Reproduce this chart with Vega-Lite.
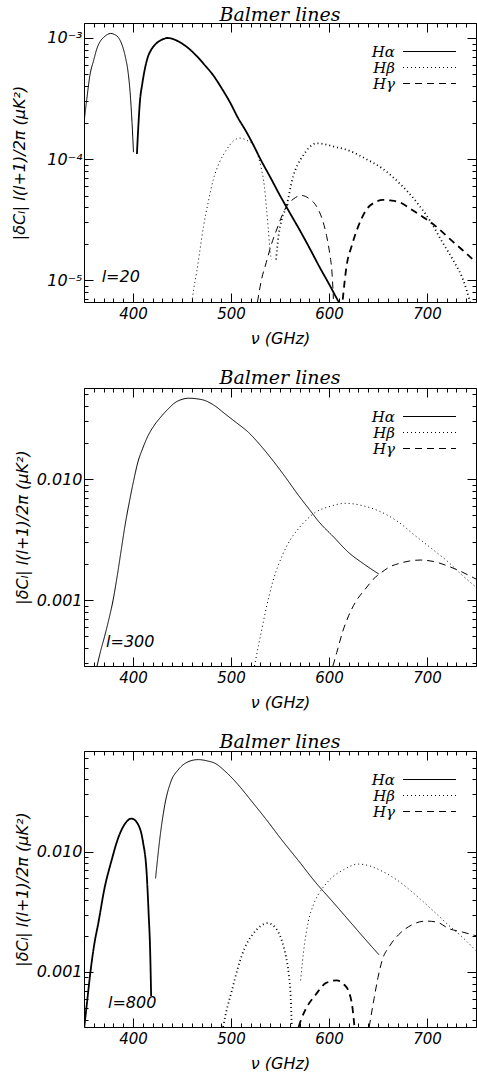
{
 "$schema": "https://vega.github.io/schema/vega-lite/v6.json",
 "padding": {"left": 11, "top": 5, "right": 0, "bottom": 0},
 "background": "white",
 "spacing": 23,
 "config": {
  "view": {"stroke": null},
  "axis": {"grid": false, "domainColor": "black", "domainWidth": 1, "tickColor": "black", "tickWidth": 1, "tickOpacity": 1, "ticks": true, "labelColor": "black", "labelFont": "DejaVu Sans", "labelFontStyle": "italic", "labelFontSize": 15, "titleColor": "black", "titleFont": "DejaVu Sans", "titleFontStyle": "italic", "titleFontWeight": "normal", "titleFontSize": 16, "labelOverlap": false, "labelFlush": false},
  "axisY": {"labelFontSize": 16},
  "title": {"font": "DejaVu Serif", "fontStyle": "italic", "fontSize": 19, "fontWeight": "normal", "color": "black", "offset": -2},
  "legend": {"orient": "none", "legendX": 338, "legendY": 21, "title": null, "symbolType": "M-5.3,0H5.3", "symbolSize": 100, "symbolStrokeWidth": 1.2, "symbolStrokeColor": "black", "symbolFillColor": "transparent", "labelAlign": "right", "labelOffset": -42, "labelFont": "DejaVu Serif", "labelFontStyle": "italic", "labelFontSize": 15, "labelColor": "black", "rowPadding": -2, "padding": 0, "offset": 0}
 },
 "datasets": {
  "l20": [
   {"nu":350,"v":2.0e-4,"line":"Hα","arc":1,"sign":"+"},
   {"nu":353,"v":3.2e-4,"line":"Hα","arc":1,"sign":"+"},
   {"nu":356,"v":4.9e-4,"line":"Hα","arc":1,"sign":"+"},
   {"nu":360,"v":6.6e-4,"line":"Hα","arc":1,"sign":"+"},
   {"nu":363,"v":8.1e-4,"line":"Hα","arc":1,"sign":"+"},
   {"nu":367,"v":9.5e-4,"line":"Hα","arc":1,"sign":"+"},
   {"nu":370,"v":1.01e-3,"line":"Hα","arc":1,"sign":"+"},
   {"nu":374,"v":1.07e-3,"line":"Hα","arc":1,"sign":"+"},
   {"nu":377,"v":1.09e-3,"line":"Hα","arc":1,"sign":"+"},
   {"nu":381,"v":1.07e-3,"line":"Hα","arc":1,"sign":"+"},
   {"nu":385,"v":1.01e-3,"line":"Hα","arc":1,"sign":"+"},
   {"nu":389,"v":8.7e-4,"line":"Hα","arc":1,"sign":"+"},
   {"nu":392,"v":7.1e-4,"line":"Hα","arc":1,"sign":"+"},
   {"nu":395,"v":5.2e-4,"line":"Hα","arc":1,"sign":"+"},
   {"nu":397,"v":3.6e-4,"line":"Hα","arc":1,"sign":"+"},
   {"nu":399,"v":2.0e-4,"line":"Hα","arc":1,"sign":"+"},
   {"nu":400.5,"v":1.14e-4,"line":"Hα","arc":1,"sign":"+"},
   {"nu":404,"v":1.1e-4,"line":"Hα","arc":2,"sign":"−"},
   {"nu":405.5,"v":1.9e-4,"line":"Hα","arc":2,"sign":"−"},
   {"nu":407,"v":2.95e-4,"line":"Hα","arc":2,"sign":"−"},
   {"nu":409.5,"v":4.2e-4,"line":"Hα","arc":2,"sign":"−"},
   {"nu":412,"v":5.5e-4,"line":"Hα","arc":2,"sign":"−"},
   {"nu":415,"v":6.9e-4,"line":"Hα","arc":2,"sign":"−"},
   {"nu":419,"v":8.1e-4,"line":"Hα","arc":2,"sign":"−"},
   {"nu":423,"v":8.9e-4,"line":"Hα","arc":2,"sign":"−"},
   {"nu":427.5,"v":9.5e-4,"line":"Hα","arc":2,"sign":"−"},
   {"nu":431,"v":9.8e-4,"line":"Hα","arc":2,"sign":"−"},
   {"nu":435,"v":1.0e-3,"line":"Hα","arc":2,"sign":"−"},
   {"nu":441,"v":9.8e-4,"line":"Hα","arc":2,"sign":"−"},
   {"nu":448,"v":9.2e-4,"line":"Hα","arc":2,"sign":"−"},
   {"nu":456,"v":8.3e-4,"line":"Hα","arc":2,"sign":"−"},
   {"nu":465,"v":7.1e-4,"line":"Hα","arc":2,"sign":"−"},
   {"nu":473,"v":6.0e-4,"line":"Hα","arc":2,"sign":"−"},
   {"nu":482,"v":4.9e-4,"line":"Hα","arc":2,"sign":"−"},
   {"nu":490,"v":3.9e-4,"line":"Hα","arc":2,"sign":"−"},
   {"nu":499,"v":2.94e-4,"line":"Hα","arc":2,"sign":"−"},
   {"nu":507,"v":2.2e-4,"line":"Hα","arc":2,"sign":"−"},
   {"nu":516,"v":1.66e-4,"line":"Hα","arc":2,"sign":"−"},
   {"nu":523,"v":1.3e-4,"line":"Hα","arc":2,"sign":"−"},
   {"nu":530,"v":1.0e-4,"line":"Hα","arc":2,"sign":"−"},
   {"nu":540,"v":7.1e-5,"line":"Hα","arc":2,"sign":"−"},
   {"nu":550,"v":5.0e-5,"line":"Hα","arc":2,"sign":"−"},
   {"nu":560,"v":3.6e-5,"line":"Hα","arc":2,"sign":"−"},
   {"nu":570,"v":2.6e-5,"line":"Hα","arc":2,"sign":"−"},
   {"nu":580,"v":1.85e-5,"line":"Hα","arc":2,"sign":"−"},
   {"nu":590,"v":1.3e-5,"line":"Hα","arc":2,"sign":"−"},
   {"nu":600,"v":9.3e-6,"line":"Hα","arc":2,"sign":"−"},
   {"nu":610,"v":6.6e-6,"line":"Hα","arc":2,"sign":"−"},
   {"nu":612,"v":6.2e-6,"line":"Hα","arc":2,"sign":"−"},
   {"nu":460,"v":6.5e-6,"line":"Hβ","arc":1,"sign":"+"},
   {"nu":462,"v":8.5e-6,"line":"Hβ","arc":1,"sign":"+"},
   {"nu":465,"v":1.17e-5,"line":"Hβ","arc":1,"sign":"+"},
   {"nu":468,"v":1.7e-5,"line":"Hβ","arc":1,"sign":"+"},
   {"nu":472,"v":2.8e-5,"line":"Hβ","arc":1,"sign":"+"},
   {"nu":477,"v":4.5e-5,"line":"Hβ","arc":1,"sign":"+"},
   {"nu":482,"v":6.8e-5,"line":"Hβ","arc":1,"sign":"+"},
   {"nu":488,"v":9.3e-5,"line":"Hβ","arc":1,"sign":"+"},
   {"nu":495.6,"v":1.2e-4,"line":"Hβ","arc":1,"sign":"+"},
   {"nu":502,"v":1.4e-4,"line":"Hβ","arc":1,"sign":"+"},
   {"nu":509,"v":1.49e-4,"line":"Hβ","arc":1,"sign":"+"},
   {"nu":516,"v":1.43e-4,"line":"Hβ","arc":1,"sign":"+"},
   {"nu":523,"v":1.29e-4,"line":"Hβ","arc":1,"sign":"+"},
   {"nu":527,"v":1.1e-4,"line":"Hβ","arc":1,"sign":"+"},
   {"nu":531,"v":8.3e-5,"line":"Hβ","arc":1,"sign":"+"},
   {"nu":534,"v":6.0e-5,"line":"Hβ","arc":1,"sign":"+"},
   {"nu":536,"v":4.1e-5,"line":"Hβ","arc":1,"sign":"+"},
   {"nu":538,"v":2.7e-5,"line":"Hβ","arc":1,"sign":"+"},
   {"nu":540,"v":1.7e-5,"line":"Hβ","arc":1,"sign":"+"},
   {"nu":541.5,"v":1.48e-5,"line":"Hβ","arc":1,"sign":"+"},
   {"nu":546,"v":1.48e-5,"line":"Hβ","arc":2,"sign":"−"},
   {"nu":548.5,"v":2.33e-5,"line":"Hβ","arc":2,"sign":"−"},
   {"nu":552,"v":3.2e-5,"line":"Hβ","arc":2,"sign":"−"},
   {"nu":556.6,"v":4.1e-5,"line":"Hβ","arc":2,"sign":"−"},
   {"nu":563.4,"v":7.2e-5,"line":"Hβ","arc":2,"sign":"−"},
   {"nu":568,"v":9.0e-5,"line":"Hβ","arc":2,"sign":"−"},
   {"nu":573.6,"v":1.07e-4,"line":"Hβ","arc":2,"sign":"−"},
   {"nu":580,"v":1.25e-4,"line":"Hβ","arc":2,"sign":"−"},
   {"nu":587,"v":1.35e-4,"line":"Hβ","arc":2,"sign":"−"},
   {"nu":595,"v":1.33e-4,"line":"Hβ","arc":2,"sign":"−"},
   {"nu":605,"v":1.27e-4,"line":"Hβ","arc":2,"sign":"−"},
   {"nu":621,"v":1.17e-4,"line":"Hβ","arc":2,"sign":"−"},
   {"nu":638,"v":1.0e-4,"line":"Hβ","arc":2,"sign":"−"},
   {"nu":655,"v":8.3e-5,"line":"Hβ","arc":2,"sign":"−"},
   {"nu":672,"v":6.3e-5,"line":"Hβ","arc":2,"sign":"−"},
   {"nu":689.5,"v":4.4e-5,"line":"Hβ","arc":2,"sign":"−"},
   {"nu":703,"v":3.1e-5,"line":"Hβ","arc":2,"sign":"−"},
   {"nu":716.6,"v":2.0e-5,"line":"Hβ","arc":2,"sign":"−"},
   {"nu":727,"v":1.45e-5,"line":"Hβ","arc":2,"sign":"−"},
   {"nu":737,"v":1.0e-5,"line":"Hβ","arc":2,"sign":"−"},
   {"nu":744,"v":6.6e-6,"line":"Hβ","arc":2,"sign":"−"},
   {"nu":527,"v":6.6e-6,"line":"Hγ","arc":1,"sign":"+"},
   {"nu":531,"v":1.0e-5,"line":"Hγ","arc":1,"sign":"+"},
   {"nu":536,"v":1.4e-5,"line":"Hγ","arc":1,"sign":"+"},
   {"nu":541,"v":1.95e-5,"line":"Hγ","arc":1,"sign":"+"},
   {"nu":546.5,"v":2.6e-5,"line":"Hγ","arc":1,"sign":"+"},
   {"nu":552,"v":3.4e-5,"line":"Hγ","arc":1,"sign":"+"},
   {"nu":557,"v":4.1e-5,"line":"Hγ","arc":1,"sign":"+"},
   {"nu":564,"v":4.7e-5,"line":"Hγ","arc":1,"sign":"+"},
   {"nu":572,"v":5.0e-5,"line":"Hγ","arc":1,"sign":"+"},
   {"nu":580,"v":4.7e-5,"line":"Hγ","arc":1,"sign":"+"},
   {"nu":587,"v":4.1e-5,"line":"Hγ","arc":1,"sign":"+"},
   {"nu":593,"v":3.2e-5,"line":"Hγ","arc":1,"sign":"+"},
   {"nu":597.5,"v":2.33e-5,"line":"Hγ","arc":1,"sign":"+"},
   {"nu":601,"v":1.6e-5,"line":"Hγ","arc":1,"sign":"+"},
   {"nu":603,"v":1.17e-5,"line":"Hγ","arc":1,"sign":"+"},
   {"nu":604.5,"v":7.0e-6,"line":"Hγ","arc":1,"sign":"+"},
   {"nu":614,"v":6.9e-6,"line":"Hγ","arc":2,"sign":"−"},
   {"nu":618,"v":1.32e-5,"line":"Hγ","arc":2,"sign":"−"},
   {"nu":623,"v":1.9e-5,"line":"Hγ","arc":2,"sign":"−"},
   {"nu":628.5,"v":2.6e-5,"line":"Hγ","arc":2,"sign":"−"},
   {"nu":633,"v":3.2e-5,"line":"Hγ","arc":2,"sign":"−"},
   {"nu":639,"v":3.9e-5,"line":"Hγ","arc":2,"sign":"−"},
   {"nu":647,"v":4.4e-5,"line":"Hγ","arc":2,"sign":"−"},
   {"nu":655,"v":4.6e-5,"line":"Hγ","arc":2,"sign":"−"},
   {"nu":663,"v":4.55e-5,"line":"Hγ","arc":2,"sign":"−"},
   {"nu":672,"v":4.4e-5,"line":"Hγ","arc":2,"sign":"−"},
   {"nu":685,"v":3.8e-5,"line":"Hγ","arc":2,"sign":"−"},
   {"nu":699,"v":3.2e-5,"line":"Hγ","arc":2,"sign":"−"},
   {"nu":711,"v":2.7e-5,"line":"Hγ","arc":2,"sign":"−"},
   {"nu":723,"v":2.2e-5,"line":"Hγ","arc":2,"sign":"−"},
   {"nu":737,"v":1.75e-5,"line":"Hγ","arc":2,"sign":"−"},
   {"nu":750,"v":1.4e-5,"line":"Hγ","arc":2,"sign":"−"}
  ],
  "l300": [
   {"nu":360,"v":2.2e-4,"line":"Hα","arc":1,"sign":"+"},
   {"nu":363.3,"v":2.85e-4,"line":"Hα","arc":1,"sign":"+"},
   {"nu":367,"v":3.8e-4,"line":"Hα","arc":1,"sign":"+"},
   {"nu":371,"v":5.0e-4,"line":"Hα","arc":1,"sign":"+"},
   {"nu":375.5,"v":7.0e-4,"line":"Hα","arc":1,"sign":"+"},
   {"nu":379.7,"v":1.0e-3,"line":"Hα","arc":1,"sign":"+"},
   {"nu":384,"v":1.6e-3,"line":"Hα","arc":1,"sign":"+"},
   {"nu":388,"v":2.6e-3,"line":"Hα","arc":1,"sign":"+"},
   {"nu":392,"v":4.2e-3,"line":"Hα","arc":1,"sign":"+"},
   {"nu":396.8,"v":6.8e-3,"line":"Hα","arc":1,"sign":"+"},
   {"nu":401,"v":1.0e-2,"line":"Hα","arc":1,"sign":"+"},
   {"nu":405,"v":1.38e-2,"line":"Hα","arc":1,"sign":"+"},
   {"nu":410,"v":1.8e-2,"line":"Hα","arc":1,"sign":"+"},
   {"nu":415.5,"v":2.29e-2,"line":"Hα","arc":1,"sign":"+"},
   {"nu":422,"v":2.8e-2,"line":"Hα","arc":1,"sign":"+"},
   {"nu":429,"v":3.3e-2,"line":"Hα","arc":1,"sign":"+"},
   {"nu":436,"v":3.8e-2,"line":"Hα","arc":1,"sign":"+"},
   {"nu":442.8,"v":4.27e-2,"line":"Hα","arc":1,"sign":"+"},
   {"nu":450,"v":4.55e-2,"line":"Hα","arc":1,"sign":"+"},
   {"nu":456.4,"v":4.65e-2,"line":"Hα","arc":1,"sign":"+"},
   {"nu":465,"v":4.6e-2,"line":"Hα","arc":1,"sign":"+"},
   {"nu":473.5,"v":4.45e-2,"line":"Hα","arc":1,"sign":"+"},
   {"nu":484,"v":4.0e-2,"line":"Hα","arc":1,"sign":"+"},
   {"nu":494,"v":3.45e-2,"line":"Hα","arc":1,"sign":"+"},
   {"nu":506,"v":2.9e-2,"line":"Hα","arc":1,"sign":"+"},
   {"nu":517.8,"v":2.43e-2,"line":"Hα","arc":1,"sign":"+"},
   {"nu":530,"v":1.9e-2,"line":"Hα","arc":1,"sign":"+"},
   {"nu":541.6,"v":1.46e-2,"line":"Hα","arc":1,"sign":"+"},
   {"nu":555,"v":1.05e-2,"line":"Hα","arc":1,"sign":"+"},
   {"nu":569,"v":7.3e-3,"line":"Hα","arc":1,"sign":"+"},
   {"nu":580,"v":5.6e-3,"line":"Hα","arc":1,"sign":"+"},
   {"nu":589,"v":4.5e-3,"line":"Hα","arc":1,"sign":"+"},
   {"nu":605,"v":3.3e-3,"line":"Hα","arc":1,"sign":"+"},
   {"nu":620,"v":2.47e-3,"line":"Hα","arc":1,"sign":"+"},
   {"nu":635,"v":2.0e-3,"line":"Hα","arc":1,"sign":"+"},
   {"nu":650.8,"v":1.64e-3,"line":"Hα","arc":1,"sign":"+"},
   {"nu":524,"v":2.85e-4,"line":"Hβ","arc":1,"sign":"+"},
   {"nu":528,"v":4.2e-4,"line":"Hβ","arc":1,"sign":"+"},
   {"nu":531,"v":5.5e-4,"line":"Hβ","arc":1,"sign":"+"},
   {"nu":535,"v":7.9e-4,"line":"Hβ","arc":1,"sign":"+"},
   {"nu":543,"v":1.45e-3,"line":"Hβ","arc":1,"sign":"+"},
   {"nu":552,"v":2.3e-3,"line":"Hβ","arc":1,"sign":"+"},
   {"nu":560,"v":3.1e-3,"line":"Hβ","arc":1,"sign":"+"},
   {"nu":569,"v":3.9e-3,"line":"Hβ","arc":1,"sign":"+"},
   {"nu":577,"v":4.6e-3,"line":"Hβ","arc":1,"sign":"+"},
   {"nu":586,"v":5.3e-3,"line":"Hβ","arc":1,"sign":"+"},
   {"nu":600,"v":5.9e-3,"line":"Hβ","arc":1,"sign":"+"},
   {"nu":617,"v":6.3e-3,"line":"Hβ","arc":1,"sign":"+"},
   {"nu":635,"v":6.0e-3,"line":"Hβ","arc":1,"sign":"+"},
   {"nu":654,"v":5.3e-3,"line":"Hβ","arc":1,"sign":"+"},
   {"nu":671,"v":4.4e-3,"line":"Hβ","arc":1,"sign":"+"},
   {"nu":688,"v":3.4e-3,"line":"Hβ","arc":1,"sign":"+"},
   {"nu":705,"v":2.65e-3,"line":"Hβ","arc":1,"sign":"+"},
   {"nu":722,"v":2.05e-3,"line":"Hβ","arc":1,"sign":"+"},
   {"nu":736,"v":1.6e-3,"line":"Hβ","arc":1,"sign":"+"},
   {"nu":750,"v":1.28e-3,"line":"Hβ","arc":1,"sign":"+"},
   {"nu":604,"v":2.85e-4,"line":"Hγ","arc":1,"sign":"+"},
   {"nu":608,"v":3.7e-4,"line":"Hγ","arc":1,"sign":"+"},
   {"nu":614,"v":5.5e-4,"line":"Hγ","arc":1,"sign":"+"},
   {"nu":620,"v":7.4e-4,"line":"Hγ","arc":1,"sign":"+"},
   {"nu":628,"v":9.9e-4,"line":"Hγ","arc":1,"sign":"+"},
   {"nu":637,"v":1.23e-3,"line":"Hγ","arc":1,"sign":"+"},
   {"nu":645,"v":1.48e-3,"line":"Hγ","arc":1,"sign":"+"},
   {"nu":654,"v":1.7e-3,"line":"Hγ","arc":1,"sign":"+"},
   {"nu":662,"v":1.88e-3,"line":"Hγ","arc":1,"sign":"+"},
   {"nu":671,"v":2.0e-3,"line":"Hγ","arc":1,"sign":"+"},
   {"nu":682,"v":2.1e-3,"line":"Hγ","arc":1,"sign":"+"},
   {"nu":693,"v":2.14e-3,"line":"Hγ","arc":1,"sign":"+"},
   {"nu":707,"v":2.08e-3,"line":"Hγ","arc":1,"sign":"+"},
   {"nu":722,"v":1.9e-3,"line":"Hγ","arc":1,"sign":"+"},
   {"nu":736,"v":1.7e-3,"line":"Hγ","arc":1,"sign":"+"},
   {"nu":750,"v":1.49e-3,"line":"Hγ","arc":1,"sign":"+"}
  ],
  "l800": [
   {"nu":350,"v":3.3e-4,"line":"Hα","arc":1,"sign":"−"},
   {"nu":353,"v":5.5e-4,"line":"Hα","arc":1,"sign":"−"},
   {"nu":357.5,"v":1.15e-3,"line":"Hα","arc":1,"sign":"−"},
   {"nu":361,"v":1.8e-3,"line":"Hα","arc":1,"sign":"−"},
   {"nu":364.3,"v":2.47e-3,"line":"Hα","arc":1,"sign":"−"},
   {"nu":371,"v":5.0e-3,"line":"Hα","arc":1,"sign":"−"},
   {"nu":378,"v":8.4e-3,"line":"Hα","arc":1,"sign":"−"},
   {"nu":385,"v":1.31e-2,"line":"Hα","arc":1,"sign":"−"},
   {"nu":391.6,"v":1.7e-2,"line":"Hα","arc":1,"sign":"−"},
   {"nu":398.5,"v":1.89e-2,"line":"Hα","arc":1,"sign":"−"},
   {"nu":405,"v":1.7e-2,"line":"Hα","arc":1,"sign":"−"},
   {"nu":410,"v":1.23e-2,"line":"Hα","arc":1,"sign":"−"},
   {"nu":414,"v":6.5e-3,"line":"Hα","arc":1,"sign":"−"},
   {"nu":416,"v":3.0e-3,"line":"Hα","arc":1,"sign":"−"},
   {"nu":417.5,"v":1.5e-3,"line":"Hα","arc":1,"sign":"−"},
   {"nu":418.5,"v":6.3e-4,"line":"Hα","arc":1,"sign":"−"},
   {"nu":423,"v":6.0e-3,"line":"Hα","arc":2,"sign":"+"},
   {"nu":427.5,"v":1.31e-2,"line":"Hα","arc":2,"sign":"+"},
   {"nu":432.5,"v":2.47e-2,"line":"Hα","arc":2,"sign":"+"},
   {"nu":439,"v":3.9e-2,"line":"Hα","arc":2,"sign":"+"},
   {"nu":446,"v":4.8e-2,"line":"Hα","arc":2,"sign":"+"},
   {"nu":456,"v":5.6e-2,"line":"Hα","arc":2,"sign":"+"},
   {"nu":466.6,"v":5.85e-2,"line":"Hα","arc":2,"sign":"+"},
   {"nu":476,"v":5.7e-2,"line":"Hα","arc":2,"sign":"+"},
   {"nu":483.7,"v":5.45e-2,"line":"Hα","arc":2,"sign":"+"},
   {"nu":495,"v":4.6e-2,"line":"Hα","arc":2,"sign":"+"},
   {"nu":507.5,"v":3.6e-2,"line":"Hα","arc":2,"sign":"+"},
   {"nu":520,"v":2.7e-2,"line":"Hα","arc":2,"sign":"+"},
   {"nu":535,"v":1.9e-2,"line":"Hα","arc":2,"sign":"+"},
   {"nu":552,"v":1.25e-2,"line":"Hα","arc":2,"sign":"+"},
   {"nu":569,"v":8.4e-3,"line":"Hα","arc":2,"sign":"+"},
   {"nu":586,"v":5.6e-3,"line":"Hα","arc":2,"sign":"+"},
   {"nu":603,"v":3.9e-3,"line":"Hα","arc":2,"sign":"+"},
   {"nu":620,"v":2.7e-3,"line":"Hα","arc":2,"sign":"+"},
   {"nu":635,"v":1.95e-3,"line":"Hα","arc":2,"sign":"+"},
   {"nu":651,"v":1.39e-3,"line":"Hα","arc":2,"sign":"+"},
   {"nu":492,"v":3.48e-4,"line":"Hβ","arc":1,"sign":"−"},
   {"nu":495,"v":4.6e-4,"line":"Hβ","arc":1,"sign":"−"},
   {"nu":500.7,"v":6.9e-4,"line":"Hβ","arc":1,"sign":"−"},
   {"nu":507,"v":1.08e-3,"line":"Hβ","arc":1,"sign":"−"},
   {"nu":514,"v":1.58e-3,"line":"Hβ","arc":1,"sign":"−"},
   {"nu":522,"v":2.05e-3,"line":"Hβ","arc":1,"sign":"−"},
   {"nu":530,"v":2.4e-3,"line":"Hβ","arc":1,"sign":"−"},
   {"nu":537,"v":2.55e-3,"line":"Hβ","arc":1,"sign":"−"},
   {"nu":545,"v":2.35e-3,"line":"Hβ","arc":1,"sign":"−"},
   {"nu":552,"v":1.8e-3,"line":"Hβ","arc":1,"sign":"−"},
   {"nu":556,"v":1.35e-3,"line":"Hβ","arc":1,"sign":"−"},
   {"nu":559,"v":9.5e-4,"line":"Hβ","arc":1,"sign":"−"},
   {"nu":561,"v":6.0e-4,"line":"Hβ","arc":1,"sign":"−"},
   {"nu":562,"v":3.48e-4,"line":"Hβ","arc":1,"sign":"−"},
   {"nu":571,"v":8.5e-4,"line":"Hβ","arc":2,"sign":"+"},
   {"nu":575,"v":1.7e-3,"line":"Hβ","arc":2,"sign":"+"},
   {"nu":579,"v":2.65e-3,"line":"Hβ","arc":2,"sign":"+"},
   {"nu":584,"v":3.6e-3,"line":"Hβ","arc":2,"sign":"+"},
   {"nu":589,"v":4.4e-3,"line":"Hβ","arc":2,"sign":"+"},
   {"nu":596,"v":5.3e-3,"line":"Hβ","arc":2,"sign":"+"},
   {"nu":603,"v":6.1e-3,"line":"Hβ","arc":2,"sign":"+"},
   {"nu":615,"v":7.1e-3,"line":"Hβ","arc":2,"sign":"+"},
   {"nu":630,"v":7.9e-3,"line":"Hβ","arc":2,"sign":"+"},
   {"nu":642,"v":7.6e-3,"line":"Hβ","arc":2,"sign":"+"},
   {"nu":654,"v":6.9e-3,"line":"Hβ","arc":2,"sign":"+"},
   {"nu":671,"v":5.7e-3,"line":"Hβ","arc":2,"sign":"+"},
   {"nu":688,"v":4.4e-3,"line":"Hβ","arc":2,"sign":"+"},
   {"nu":705,"v":3.3e-3,"line":"Hβ","arc":2,"sign":"+"},
   {"nu":722,"v":2.45e-3,"line":"Hβ","arc":2,"sign":"+"},
   {"nu":736,"v":1.95e-3,"line":"Hβ","arc":2,"sign":"+"},
   {"nu":750,"v":1.5e-3,"line":"Hβ","arc":2,"sign":"+"},
   {"nu":569,"v":3.48e-4,"line":"Hγ","arc":1,"sign":"−"},
   {"nu":571,"v":3.9e-4,"line":"Hγ","arc":1,"sign":"−"},
   {"nu":578,"v":5.2e-4,"line":"Hγ","arc":1,"sign":"−"},
   {"nu":586,"v":6.4e-4,"line":"Hγ","arc":1,"sign":"−"},
   {"nu":597,"v":8.1e-4,"line":"Hγ","arc":1,"sign":"−"},
   {"nu":608,"v":8.5e-4,"line":"Hγ","arc":1,"sign":"−"},
   {"nu":615,"v":7.9e-4,"line":"Hγ","arc":1,"sign":"−"},
   {"nu":620,"v":6.9e-4,"line":"Hγ","arc":1,"sign":"−"},
   {"nu":624,"v":5.0e-4,"line":"Hγ","arc":1,"sign":"−"},
   {"nu":626,"v":3.48e-4,"line":"Hγ","arc":1,"sign":"−"},
   {"nu":641,"v":3.48e-4,"line":"Hγ","arc":2,"sign":"+"},
   {"nu":646,"v":6.0e-4,"line":"Hγ","arc":2,"sign":"+"},
   {"nu":650,"v":9.0e-4,"line":"Hγ","arc":2,"sign":"+"},
   {"nu":654,"v":1.23e-3,"line":"Hγ","arc":2,"sign":"+"},
   {"nu":662,"v":1.65e-3,"line":"Hγ","arc":2,"sign":"+"},
   {"nu":671,"v":2.04e-3,"line":"Hγ","arc":2,"sign":"+"},
   {"nu":684,"v":2.45e-3,"line":"Hγ","arc":2,"sign":"+"},
   {"nu":698.5,"v":2.65e-3,"line":"Hγ","arc":2,"sign":"+"},
   {"nu":710,"v":2.6e-3,"line":"Hγ","arc":2,"sign":"+"},
   {"nu":722,"v":2.3e-3,"line":"Hγ","arc":2,"sign":"+"},
   {"nu":736,"v":2.15e-3,"line":"Hγ","arc":2,"sign":"+"},
   {"nu":750,"v":2.0e-3,"line":"Hγ","arc":2,"sign":"+"}
  ],
  "notes": [
   {"panel":1,"nu":368,"v":1.06e-5,"label":"l=20"},
   {"panel":2,"nu":372.5,"v":4.5e-4,"label":"l=300"},
   {"panel":3,"nu":374.5,"v":5.5e-4,"label":"l=800"}
  ]
 },
 "vconcat": [
  {
   "title": "Balmer lines",
   "width": 392, "height": 279,
   "layer": [
    {
     "data": {"name": "l20"},
     "mark": {"type": "line", "clip": true, "color": "black", "interpolate": "monotone"},
     "encoding": {
      "x": {"field": "nu", "type": "quantitative", "scale": {"domain": [350, 750], "nice": false, "zero": false},
            "axis": {"orient": "bottom", "values": [350,360,370,380,390,400,410,420,430,440,450,460,470,480,490,500,510,520,530,540,550,560,570,580,590,600,610,620,630,640,650,660,670,680,690,700,710,720,730,740,750], "format": "d", "labelExpr": "datum.value % 100 == 0 ? datum.label : ''", "tickSize": {"expr": "datum.value % 100 == 0 ? -9 : -4"}, "labelPadding": 13, "title": "ν (GHz)", "titlePadding": 4}},
      "y": {"field": "v", "type": "quantitative", "scale": {"type": "log", "domain": [6.6e-6, 1.33e-3], "nice": false},
            "axis": {"orient": "left", "values": [7e-6,8e-6,9e-6,1e-5,2e-5,3e-5,4e-5,5e-5,6e-5,7e-5,8e-5,9e-5,1e-4,2e-4,3e-4,4e-4,5e-4,6e-4,7e-4,8e-4,9e-4,1e-3], "labelExpr": "abs(log(datum.value)/LN10 - round(log(datum.value)/LN10)) < 1e-6 ? '10' + ['⁰','⁻¹','⁻²','⁻³','⁻⁴','⁻⁵','⁻⁶'][-round(log(datum.value)/LN10)] : ''", "tickSize": {"expr": "abs(log(datum.value)/LN10 - round(log(datum.value)/LN10)) < 1e-6 ? -9 : -4"}, "labelPadding": 11, "title": "|δCₗ|   l(l+1)/2π   (μK²)", "titlePadding": 19}},
      "strokeDash": {"field": "line", "type": "nominal", "scale": {"domain": ["Hα","Hβ","Hγ"], "range": [[1,0],[1,3],[7,5]]}},
      "strokeWidth": {"field": "sign", "type": "nominal", "scale": {"domain": ["+","−"], "range": [1, 1.8]}, "legend": null},
      "detail": {"field": "arc", "type": "nominal"}
     }
    },
    {
     "data": {"name": "notes"},
     "transform": [{"filter": "datum.panel == 1"}],
     "mark": {"type": "text", "align": "left", "baseline": "middle", "font": "DejaVu Sans", "fontStyle": "italic", "fontSize": 16, "color": "black"},
     "encoding": {
      "x": {"field": "nu", "type": "quantitative", "scale": {"domain": [350, 750], "nice": false, "zero": false},
            "axis": {"orient": "top", "values": [350,360,370,380,390,400,410,420,430,440,450,460,470,480,490,500,510,520,530,540,550,560,570,580,590,600,610,620,630,640,650,660,670,680,690,700,710,720,730,740,750], "labels": false, "title": null, "tickSize": {"expr": "datum.value % 100 == 0 ? -9 : -4"}}},
      "y": {"field": "v", "type": "quantitative", "scale": {"type": "log", "domain": [6.6e-6, 1.33e-3], "nice": false},
            "axis": {"orient": "right", "values": [7e-6,8e-6,9e-6,1e-5,2e-5,3e-5,4e-5,5e-5,6e-5,7e-5,8e-5,9e-5,1e-4,2e-4,3e-4,4e-4,5e-4,6e-4,7e-4,8e-4,9e-4,1e-3], "labels": false, "title": null, "tickSize": {"expr": "abs(log(datum.value)/LN10 - round(log(datum.value)/LN10)) < 1e-6 ? -9 : -4"}}},
      "text": {"field": "label"}
     }
    }
   ],
   "resolve": {"axis": {"x": "independent", "y": "independent"}}
  },
  {
   "title": "Balmer lines",
   "width": 392, "height": 278,
   "layer": [
    {
     "data": {"name": "l300"},
     "mark": {"type": "line", "clip": true, "color": "black", "interpolate": "monotone"},
     "encoding": {
      "x": {"field": "nu", "type": "quantitative", "scale": {"domain": [350, 750], "nice": false, "zero": false},
            "axis": {"orient": "bottom", "values": [350,360,370,380,390,400,410,420,430,440,450,460,470,480,490,500,510,520,530,540,550,560,570,580,590,600,610,620,630,640,650,660,670,680,690,700,710,720,730,740,750], "format": "d", "labelExpr": "datum.value % 100 == 0 ? datum.label : ''", "tickSize": {"expr": "datum.value % 100 == 0 ? -9 : -4"}, "labelPadding": 13, "title": "ν (GHz)", "titlePadding": 4}},
      "y": {"field": "v", "type": "quantitative", "scale": {"type": "log", "domain": [2.85e-4, 0.0565], "nice": false},
            "axis": {"orient": "left", "values": [3e-4,4e-4,5e-4,6e-4,7e-4,8e-4,9e-4,1e-3,2e-3,3e-3,4e-3,5e-3,6e-3,7e-3,8e-3,9e-3,0.01,0.02,0.03,0.04,0.05], "labelExpr": "abs(log(datum.value)/LN10 - round(log(datum.value)/LN10)) < 1e-6 ? format(datum.value, '.3f') : ''", "tickSize": {"expr": "abs(log(datum.value)/LN10 - round(log(datum.value)/LN10)) < 1e-6 ? -9 : -4"}, "labelPadding": 11, "title": "|δCₗ|   l(l+1)/2π   (μK²)", "titlePadding": 6}},
      "strokeDash": {"field": "line", "type": "nominal", "scale": {"domain": ["Hα","Hβ","Hγ"], "range": [[1,0],[1,3],[7,5]]}},
      "strokeWidth": {"field": "sign", "type": "nominal", "scale": {"domain": ["+","−"], "range": [1, 1.8]}, "legend": null},
      "detail": {"field": "arc", "type": "nominal"}
     }
    },
    {
     "data": {"name": "notes"},
     "transform": [{"filter": "datum.panel == 2"}],
     "mark": {"type": "text", "align": "left", "baseline": "middle", "font": "DejaVu Sans", "fontStyle": "italic", "fontSize": 16, "color": "black"},
     "encoding": {
      "x": {"field": "nu", "type": "quantitative", "scale": {"domain": [350, 750], "nice": false, "zero": false},
            "axis": {"orient": "top", "values": [350,360,370,380,390,400,410,420,430,440,450,460,470,480,490,500,510,520,530,540,550,560,570,580,590,600,610,620,630,640,650,660,670,680,690,700,710,720,730,740,750], "labels": false, "title": null, "tickSize": {"expr": "datum.value % 100 == 0 ? -9 : -4"}}},
      "y": {"field": "v", "type": "quantitative", "scale": {"type": "log", "domain": [2.85e-4, 0.0565], "nice": false},
            "axis": {"orient": "right", "values": [3e-4,4e-4,5e-4,6e-4,7e-4,8e-4,9e-4,1e-3,2e-3,3e-3,4e-3,5e-3,6e-3,7e-3,8e-3,9e-3,0.01,0.02,0.03,0.04,0.05], "labels": false, "title": null, "tickSize": {"expr": "abs(log(datum.value)/LN10 - round(log(datum.value)/LN10)) < 1e-6 ? -9 : -4"}}},
      "text": {"field": "label"}
     }
    }
   ],
   "resolve": {"axis": {"x": "independent", "y": "independent"}}
  },
  {
   "title": "Balmer lines",
   "width": 392, "height": 276,
   "layer": [
    {
     "data": {"name": "l800"},
     "mark": {"type": "line", "clip": true, "color": "black", "interpolate": "monotone"},
     "encoding": {
      "x": {"field": "nu", "type": "quantitative", "scale": {"domain": [350, 750], "nice": false, "zero": false},
            "axis": {"orient": "bottom", "values": [350,360,370,380,390,400,410,420,430,440,450,460,470,480,490,500,510,520,530,540,550,560,570,580,590,600,610,620,630,640,650,660,670,680,690,700,710,720,730,740,750], "format": "d", "labelExpr": "datum.value % 100 == 0 ? datum.label : ''", "tickSize": {"expr": "datum.value % 100 == 0 ? -9 : -4"}, "labelPadding": 13, "title": "ν (GHz)", "titlePadding": 4}},
      "y": {"field": "v", "type": "quantitative", "scale": {"type": "log", "domain": [3.48e-4, 0.069], "nice": false},
            "axis": {"orient": "left", "values": [4e-4,5e-4,6e-4,7e-4,8e-4,9e-4,1e-3,2e-3,3e-3,4e-3,5e-3,6e-3,7e-3,8e-3,9e-3,0.01,0.02,0.03,0.04,0.05,0.06], "labelExpr": "abs(log(datum.value)/LN10 - round(log(datum.value)/LN10)) < 1e-6 ? format(datum.value, '.3f') : ''", "tickSize": {"expr": "abs(log(datum.value)/LN10 - round(log(datum.value)/LN10)) < 1e-6 ? -9 : -4"}, "labelPadding": 11, "title": "|δCₗ|   l(l+1)/2π   (μK²)", "titlePadding": 6}},
      "strokeDash": {"field": "line", "type": "nominal", "scale": {"domain": ["Hα","Hβ","Hγ"], "range": [[1,0],[1,3],[7,5]]}},
      "strokeWidth": {"field": "sign", "type": "nominal", "scale": {"domain": ["+","−"], "range": [1, 1.8]}, "legend": null},
      "detail": {"field": "arc", "type": "nominal"}
     }
    },
    {
     "data": {"name": "notes"},
     "transform": [{"filter": "datum.panel == 3"}],
     "mark": {"type": "text", "align": "left", "baseline": "middle", "font": "DejaVu Sans", "fontStyle": "italic", "fontSize": 16, "color": "black"},
     "encoding": {
      "x": {"field": "nu", "type": "quantitative", "scale": {"domain": [350, 750], "nice": false, "zero": false},
            "axis": {"orient": "top", "values": [350,360,370,380,390,400,410,420,430,440,450,460,470,480,490,500,510,520,530,540,550,560,570,580,590,600,610,620,630,640,650,660,670,680,690,700,710,720,730,740,750], "labels": false, "title": null, "tickSize": {"expr": "datum.value % 100 == 0 ? -9 : -4"}}},
      "y": {"field": "v", "type": "quantitative", "scale": {"type": "log", "domain": [3.48e-4, 0.069], "nice": false},
            "axis": {"orient": "right", "values": [4e-4,5e-4,6e-4,7e-4,8e-4,9e-4,1e-3,2e-3,3e-3,4e-3,5e-3,6e-3,7e-3,8e-3,9e-3,0.01,0.02,0.03,0.04,0.05,0.06], "labels": false, "title": null, "tickSize": {"expr": "abs(log(datum.value)/LN10 - round(log(datum.value)/LN10)) < 1e-6 ? -9 : -4"}}},
      "text": {"field": "label"}
     }
    }
   ],
   "resolve": {"axis": {"x": "independent", "y": "independent"}}
  }
 ],
 "resolve": {"scale": {"x": "independent", "y": "independent", "strokeDash": "independent", "strokeWidth": "independent"}, "legend": {"strokeDash": "independent"}}
}
